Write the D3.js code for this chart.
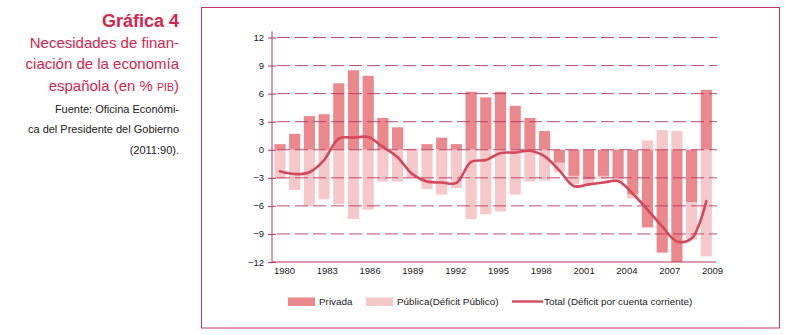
<!DOCTYPE html>
<html>
<head>
<meta charset="utf-8">
<script src="https://cdn.jsdelivr.net/npm/d3@7"></script>
<style>
  body { margin: 0; background: #fff; }
  text { font-family: "Liberation Sans", Arial, sans-serif; }
</style>
</head>
<body>
<div id="chart-area"></div>
<script>
// Data (% PIB)
const years = [1980, 1981, 1982, 1983, 1984, 1985, 1986, 1987, 1988, 1989,
               1990, 1991, 1992, 1993, 1994, 1995, 1996, 1997, 1998, 1999,
               2000, 2001, 2002, 2003, 2004, 2005, 2006, 2007, 2008, 2009];
const privada = [0.6, 1.7, 3.6, 3.8, 7.1, 8.5, 7.9, 3.4, 2.4, 0.1,
                 0.6, 1.3, 0.6, 6.2, 5.6, 6.2, 4.7, 3.4, 2.0, -1.4,
                 -2.8, -3.2, -2.8, -3.1, -4.8, -8.3, -11.0, -12.0, -5.6, 6.4];
const publica = [-3.1, -4.3, -6.0, -5.3, -5.8, -7.4, -6.4, -3.4, -3.4, -3.0,
                 -4.2, -4.8, -4.1, -7.4, -6.9, -6.6, -4.8, -3.4, -3.3, -1.0,
                 -0.9, -0.5, -0.3, -0.3, -0.4, 1.0, 2.1, 2.0, -4.0, -11.4];
const total = [-2.3, -2.6, -2.4, -1.1, 1.2, 1.3, 1.35, 0.3, -0.8, -2.6,
               -3.4, -3.5, -3.55, -1.3, -1.1, -0.35, -0.3, -0.1, -0.7, -2.2,
               -3.9, -3.7, -3.5, -3.35, -4.7, -6.4, -8.2, -9.8, -9.5, -5.5];
const yTicks = [12, 9, 6, 3, 0, -3, -6, -9, -12];
const xTickLabels = ["1980", "1983", "1986", "1989", "1992", "1995", "1998", "2001", "2004", "2007", "2009"];
const legendLabels = ["Privada", "Pública(Déficit Público)", "Total (Déficit por cuenta corriente)"];

// Colours
const colPrivada = "#ea888d";
const colPublica = "#f6c8ca";
const colLine = "#d3485b";
const colAxis = "#b9365c";
const colTitle = "#d7254b";

// Plot area
const plot = { left: 272, right: 716, top: 37.5, bottom: 262 };

const svg = d3.select("#chart-area")
  .append("svg")
    .attr("width", 785)
    .attr("height", 335);

// Frame
svg.append("rect")
  .attr("x", 201.5).attr("y", 7.5)
  .attr("width", 578).attr("height", 320.5)
  .attr("fill", "none")
  .attr("stroke", "#c43a63")
  .attr("stroke-width", 1);

// Title block
const title = svg.append("g").attr("text-anchor", "end");
title.append("text")
  .attr("x", 179).attr("y", 27)
  .attr("font-size", "18px").attr("font-weight", "bold")
  .attr("fill", colTitle)
  .text("Gráfica 4");
const sub = ["Necesidades de finan-", "ciación de la economía"];
sub.forEach((s, i) => {
  title.append("text")
    .attr("x", 179).attr("y", 48 + i * 21.3)
    .attr("font-size", "15px")
    .attr("fill", colTitle)
    .text(s);
});
const sub3 = title.append("text")
  .attr("x", 179).attr("y", 90.7)
  .attr("font-size", "15px")
  .attr("fill", colTitle);
sub3.append("tspan").text("española (en % ");
sub3.append("tspan").attr("font-size", "10.5px").text("PIB");
sub3.append("tspan").text(")");

const fuente = ["Fuente: Oficina Económi-", "ca del Presidente del Gobierno", "(2011:90)."];
fuente.forEach((s, i) => {
  title.append("text")
    .attr("x", 179).attr("y", 112.7 + i * 20.7)
    .attr("font-size", "11px")
    .attr("fill", "#222")
    .text(s);
});

// Scales
const x = d3.scaleBand()
  .domain(years)
  .range([272.65, 713.65])
  .paddingInner(0.24)
  .paddingOuter(0.12);

const xLabels = d3.scalePoint()
  .domain(xTickLabels)
  .range([284, 712]);

const y = d3.scaleLinear()
  .domain([-12, 12])
  .range([plot.bottom, plot.top]);

// Stacked bars (diverging)
const table = years.map((yr, i) => ({ year: yr, privada: privada[i], publica: publica[i] }));
const series = d3.stack()
  .keys(["privada", "publica"])
  .offset(d3.stackOffsetDiverging)(table);
const barColor = { privada: colPrivada, publica: colPublica };

svg.append("g")
  .selectAll("g")
  .data(series)
  .enter().append("g")
    .attr("fill", (d) => barColor[d.key])
  .selectAll("rect")
  .data((d) => d)
  .enter().append("rect")
    .attr("x", (d) => x(d.data.year))
    .attr("width", x.bandwidth())
    .attr("y", (d) => y(Math.max(d[0], d[1])))
    .attr("height", (d) => Math.abs(y(d[0]) - y(d[1])));

// Dashed grid lines
svg.append("g")
  .selectAll("line")
  .data(yTicks.filter((t) => t !== -12))
  .enter().append("line")
    .attr("x1", plot.left + 5)
    .attr("x2", plot.right + 1)
    .attr("y1", (d) => y(d))
    .attr("y2", (d) => y(d))
    .attr("stroke", colAxis)
    .attr("stroke-width", 0.9)
    .attr("stroke-dasharray", "13,5");

// Y axis
const yAxisGroup = svg.append("g")
  .attr("transform", "translate(" + plot.left + ",0)")
  .call(d3.axisLeft(y).tickValues(yTicks).tickSize(4).tickPadding(4));
yAxisGroup.select(".domain").remove();
yAxisGroup.selectAll(".tick line")
  .attr("x1", 4).attr("x2", -4)
  .attr("stroke", colAxis);
yAxisGroup.selectAll(".tick text")
  .attr("font-family", "Liberation Sans, Arial, sans-serif")
  .attr("font-size", "9.5px")
  .attr("fill", "#222");
svg.append("line")
  .attr("x1", plot.left).attr("x2", plot.left)
  .attr("y1", plot.top - 6).attr("y2", plot.bottom)
  .attr("stroke", colAxis).attr("stroke-width", 1);

// X axis
svg.append("line")
  .attr("x1", plot.left).attr("x2", plot.right)
  .attr("y1", plot.bottom).attr("y2", plot.bottom)
  .attr("stroke", colAxis).attr("stroke-width", 1);
const xAxisGroup = svg.append("g")
  .attr("transform", "translate(0," + plot.bottom + ")")
  .call(d3.axisBottom(xLabels).tickSize(0).tickPadding(5));
xAxisGroup.select(".domain").remove();
xAxisGroup.selectAll(".tick text")
  .attr("font-family", "Liberation Sans, Arial, sans-serif")
  .attr("font-size", "9.5px")
  .attr("fill", "#222");

// Total line
const line = d3.line()
  .x((d, i) => x(years[i]) + x.bandwidth() / 2)
  .y((d) => y(d))
  .curve(d3.curveCatmullRom.alpha(0.5));
svg.append("path")
  .datum(total)
  .attr("fill", "none")
  .attr("stroke", colLine)
  .attr("stroke-width", 2.6)
  .attr("stroke-linecap", "round")
  .attr("d", line);

// Legend
const legend = svg.append("g").attr("font-size", "9.9px");
const legendX = [288, 366, 512];
legend.append("rect").attr("x", legendX[0]).attr("y", 297.5).attr("width", 27).attr("height", 8.5).attr("fill", colPrivada);
legend.append("rect").attr("x", legendX[1]).attr("y", 297.5).attr("width", 27).attr("height", 8.5).attr("fill", colPublica);
legend.append("line").attr("x1", legendX[2]).attr("x2", legendX[2] + 31)
  .attr("y1", 301.5).attr("y2", 301.5)
  .attr("stroke", colLine).attr("stroke-width", 2.4);
legend.selectAll("text")
  .data(legendLabels)
  .enter().append("text")
    .attr("x", (d, i) => [319, 397, 544][i])
    .attr("y", 305.3)
    .attr("fill", "#222")
    .text((d) => d);
</script>
</body>
</html>
